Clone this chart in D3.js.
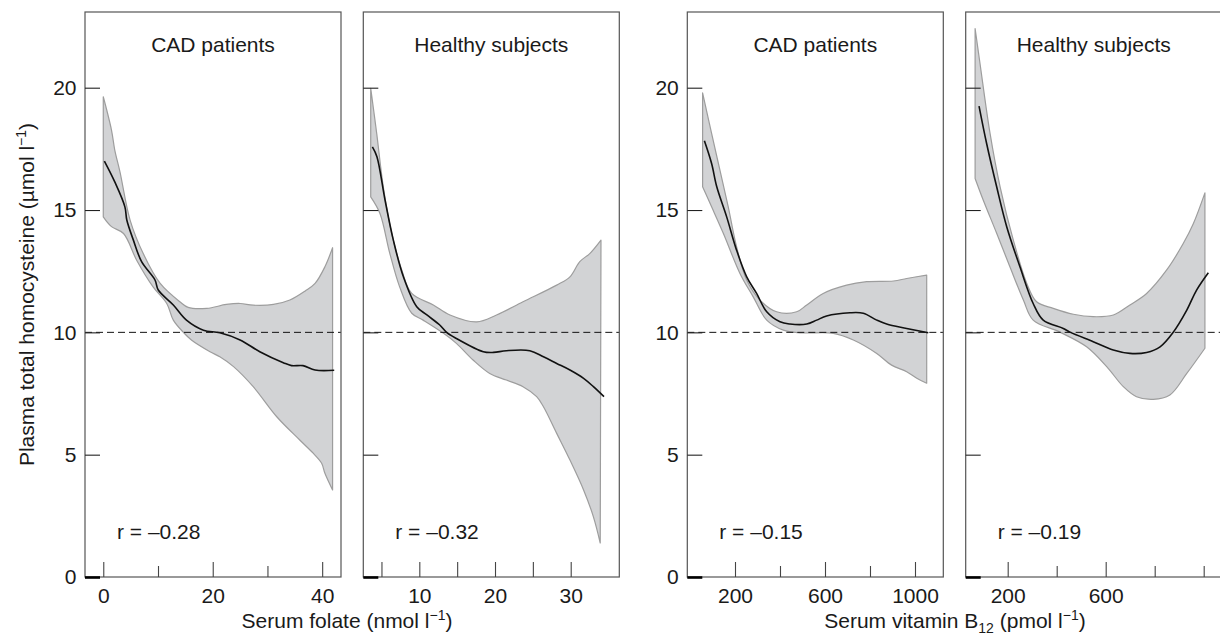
<!DOCTYPE html>
<html>
<head>
<meta charset="utf-8">
<script src="https://cdn.jsdelivr.net/npm/d3@7"></script>
<style>
  html, body { margin: 0; padding: 0; background: #fff; }
  svg { display: block; }
</style>
</head>
<body>
<svg id="chart" width="1220" height="637"></svg>
<script>
// ---------------- DATA ----------------
const panelTitles = ["CAD patients", "Healthy subjects", "CAD patients", "Healthy subjects"];
const rLabels = ["r = \u20130.28", "r = \u20130.32", "r = \u20130.15", "r = \u20130.19"];
const yTicks = [0, 5, 10, 15, 20];
const yTickLabels = ["0", "5", "10", "15", "20"];
const referenceLine = 10;

// Folate, CAD patients
const folateCadMajor = [0, 20, 40];
const folateCadMinor = [10, 30];
const folateCadUpper = [[0,19.63],[1.5,18.27],[2.1,17.45],[3.05,16.56],[4.9,14.59],[7.3,13.22],[10.4,12.0],[14.0,11.25],[15.5,11.02],[18.9,10.98],[22.5,11.14],[25,11.18],[27.4,11.11],[31.1,11.14],[34.1,11.32],[36.9,11.69],[38.7,12.0],[40.5,12.68],[41.9,13.46]];
const folateCadLower = [[0,14.72],[1.5,14.32],[3.7,14.04],[6.1,12.95],[9.1,11.86],[11.6,11.18],[12.8,10.5],[14.6,10.01],[16.1,9.69],[19.5,9.21],[21.3,9.0],[23.8,8.6],[27.4,7.78],[31.7,6.55],[35.9,5.6],[38.4,5.05],[39.9,4.65],[40.5,4.24],[41.9,3.56]];
const folateCadFit = [[0.2,17.0],[2.1,16.15],[3.95,15.13],[4.3,14.59],[5.5,13.77],[7.0,12.89],[9.45,12.14],[10.05,11.73],[12.8,11.12],[15.2,10.5],[18.3,10.09],[21.3,9.98],[25,9.69],[28.6,9.21],[32.9,8.76],[34.4,8.64],[36.5,8.64],[38.7,8.46],[42.2,8.45]];

// Folate, healthy subjects
const folateHealthyMajor = [10, 20, 30];
const folateHealthyMinor = [5, 15, 25];
const folateHealthyUpper = [[3.58,19.97],[4.37,18.13],[5.24,15.95],[6.35,14.05],[7.68,12.55],[9.0,11.59],[11.85,11.12],[14.05,10.71],[17.58,10.43],[20.2,10.71],[23.7,11.25],[28.15,11.93],[29.9,12.27],[31.2,12.89],[32.55,13.23],[34.0,13.77]];
const folateHealthyLower = [[3.58,15.54],[4.8,14.86],[6.1,13.23],[7.4,11.86],[9.0,10.78],[10.5,10.5],[13.2,9.96],[14.9,9.55],[17.1,8.87],[19.3,8.32],[21.5,8.05],[23.7,7.78],[25.5,7.37],[26.4,6.96],[28.15,5.87],[29.9,4.78],[31.7,3.56],[33.0,2.46],[33.9,1.39]];
const folateHealthyFit = [[3.8,17.58],[4.4,17.18],[5.47,15.41],[6.57,13.77],[7.9,12.27],[9.66,11.05],[11.0,10.71],[12.7,10.3],[13.6,10.0],[14.9,9.75],[18.45,9.21],[19.8,9.18],[21.5,9.25],[24.6,9.25],[26.4,9.0],[28.15,8.73],[29.9,8.46],[31.7,8.12],[33.0,7.78],[34.4,7.37]];

// Vitamin B12, CAD patients
const b12CadMajor = [200, 600, 1000];
const b12CadMinor = [400, 800];
const b12CadUpper = [[56,19.79],[96,18.13],[133,16.63],[170,15.13],[207,13.5],[252,12.14],[311,11.32],[385,10.84],[474,10.84],[519,11.12],[592,11.59],[696,11.93],[785,12.07],[904,12.1],[963,12.2],[1052,12.34]];
const b12CadLower = [[56,15.95],[96,15.13],[148,14.05],[222,12.41],[281,11.45],[341,10.5],[415,10.09],[489,9.98],[637,9.96],[726,9.69],[830,9.14],[896,8.66],[963,8.39],[1008,8.12],[1052,7.92]];
const b12CadFit = [[64,17.83],[96,16.9],[119,15.95],[163,14.72],[207,13.36],[252,12.27],[296,11.59],[341,10.84],[400,10.43],[444,10.34],[519,10.34],[563,10.5],[607,10.67],[711,10.8],[770,10.78],[830,10.5],[874,10.34],[963,10.16],[1059,9.98]];

// Vitamin B12, healthy subjects
const b12HealthyMajor = [200, 600];
const b12HealthyMinor = [400, 800, 1000];
const b12HealthyUpper = [[67,22.42],[87,20.99],[128,18.13],[169,15.95],[223,13.77],[278,12.0],[318,11.25],[386,10.98],[468,10.74],[549,10.64],[631,10.71],[699,11.12],[767,11.59],[849,12.55],[917,13.64],[958,14.45],[1005,15.7]];
const b12HealthyLower = [[67,16.29],[100,15.41],[155,14.05],[209,12.68],[264,11.32],[304,10.5],[413,10.01],[522,9.41],[604,8.6],[672,7.78],[726,7.37],[794,7.26],[862,7.44],[931,8.32],[1005,9.35]];
const b12HealthyFit = [[83,19.25],[114,17.72],[155,15.95],[196,14.32],[250,12.68],[304,11.18],[345,10.5],[427,10.16],[454,10.01],[549,9.62],[631,9.28],[699,9.14],[767,9.18],[822,9.41],[876,10.01],[931,10.91],[971,11.73],[1019,12.44]];

// ---------------- LAYOUT ----------------
const FONT = "'Liberation Sans', Arial, Helvetica, sans-serif";
const FS = 21;
const plotTop = 12, plotBottom = 577, panelW = 256;
const panels = [
  { left: 85,    domain: [-3.34, 43.44],  major: folateCadMajor,    minor: folateCadMinor,    minorLen: 11, upper: folateCadUpper,    lower: folateCadLower,    fit: folateCadFit,    yLabels: true },
  { left: 363.3, domain: [2.6, 36.42],    major: folateHealthyMajor, minor: folateHealthyMinor, minorLen: 15, upper: folateHealthyUpper, lower: folateHealthyLower, fit: folateHealthyFit, yLabels: false },
  { left: 687.3, domain: [-12, 1125.8],   major: b12CadMajor,       minor: b12CadMinor,       minorLen: 11, upper: b12CadUpper,       lower: b12CadLower,       fit: b12CadFit,       yLabels: true },
  { left: 965.7, domain: [28.6, 1073.5],  major: b12HealthyMajor,   minor: b12HealthyMinor,   minorLen: 11, upper: b12HealthyUpper,   lower: b12HealthyLower,   fit: b12HealthyFit,   yLabels: false }
];

const svg = d3.select("#chart");
const y = d3.scaleLinear().domain([0, (plotBottom - plotTop) / 24.465]).range([plotBottom, plotTop]);

panels.forEach((p, i) => {
  const x = d3.scaleLinear().domain(p.domain).range([p.left, p.left + panelW]);
  const g = svg.append("g");
  const line = d3.line().x(d => x(d[0])).y(d => y(d[1])).curve(d3.curveCatmullRom.alpha(0.5));

  // confidence band
  const up = line(p.upper);
  const lo = line(p.lower.slice().reverse());
  g.append("path")
    .attr("d", up + "L" + lo.slice(1) + "Z")
    .attr("fill", "#d2d3d5")
    .attr("stroke", "#9d9d9d")
    .attr("stroke-width", 1.2)
    .attr("stroke-linejoin", "round");

  // reference line
  g.append("line")
    .attr("x1", p.left).attr("x2", p.left + panelW)
    .attr("y1", y(referenceLine)).attr("y2", y(referenceLine))
    .attr("stroke", "#111").attr("stroke-width", 1)
    .attr("stroke-dasharray", "7,4");

  // fitted line
  g.append("path")
    .attr("d", line(p.fit))
    .attr("fill", "none")
    .attr("stroke", "#111")
    .attr("stroke-width", 1.6);

  // frame
  g.append("rect")
    .attr("x", p.left).attr("y", plotTop)
    .attr("width", panelW).attr("height", plotBottom - plotTop)
    .attr("fill", "none").attr("stroke", "#555").attr("stroke-width", 1.2);

  // y ticks (inward)
  const yAx = g.append("g").attr("transform", `translate(${p.left},0)`)
    .call(d3.axisRight(y).tickValues(yTicks).tickSize(15).tickFormat(""));
  yAx.select(".domain").remove();
  yAx.selectAll(".tick line").attr("stroke", "#222").attr("stroke-width", 1.1);
  yAx.selectAll(".tick").filter(d => d === 0).select("line")
    .attr("stroke", "#000").attr("stroke-width", 2.6);

  if (p.yLabels) {
    const yl = g.append("g").attr("transform", `translate(${p.left},0)`)
      .call(d3.axisLeft(y).tickValues(yTicks).tickSize(0).tickPadding(8.5)
        .tickFormat((d, k) => yTickLabels[k]));
    yl.select(".domain").remove();
    yl.selectAll("text").attr("font-family", FONT).attr("font-size", FS).attr("fill", "#1a1a1a");
  }

  // x ticks (inward)
  const xMaj = g.append("g").attr("transform", `translate(0,${plotBottom})`)
    .call(d3.axisTop(x).tickValues(p.major).tickSize(15).tickFormat(""));
  xMaj.select(".domain").remove();
  xMaj.selectAll(".tick line").attr("stroke", "#444").attr("stroke-width", 1.1);
  const xMin = g.append("g").attr("transform", `translate(0,${plotBottom})`)
    .call(d3.axisTop(x).tickValues(p.minor).tickSize(p.minorLen).tickFormat(""));
  xMin.select(".domain").remove();
  xMin.selectAll(".tick line").attr("stroke", "#444").attr("stroke-width", 1.1);

  const xl = g.append("g").attr("transform", `translate(0,${plotBottom})`)
    .call(d3.axisBottom(x).tickValues(p.major).tickSize(0).tickPadding(11).tickFormat(d3.format("d")));
  xl.select(".domain").remove();
  xl.selectAll("text").attr("font-family", FONT).attr("font-size", FS).attr("fill", "#1a1a1a");

  // title
  g.append("text")
    .attr("x", p.left + panelW / 2).attr("y", 52)
    .attr("text-anchor", "middle")
    .attr("font-family", FONT).attr("font-size", FS).attr("fill", "#1a1a1a")
    .text(panelTitles[i]);

  // correlation
  g.append("text")
    .attr("x", p.left + 32).attr("y", 539)
    .attr("font-family", FONT).attr("font-size", FS).attr("fill", "#1a1a1a")
    .text(rLabels[i]);
});

// Axis titles
const yTitle = svg.append("text")
  .attr("transform", `translate(34,${(plotTop + plotBottom) / 2}) rotate(-90)`)
  .attr("text-anchor", "middle")
  .attr("font-family", FONT).attr("font-size", FS).attr("fill", "#1a1a1a");
yTitle.append("tspan").text("Plasma total homocysteine (\u00b5mol l");
yTitle.append("tspan").attr("font-size", 14).attr("dy", -8).text("\u22121");
yTitle.append("tspan").attr("dy", 8).text(")");

const x1Title = svg.append("text")
  .attr("x", 347).attr("y", 628)
  .attr("text-anchor", "middle")
  .attr("font-family", FONT).attr("font-size", FS).attr("fill", "#1a1a1a");
x1Title.append("tspan").text("Serum folate (nmol l");
x1Title.append("tspan").attr("font-size", 14).attr("dy", -8).text("\u22121");
x1Title.append("tspan").attr("dy", 8).text(")");

const x2Title = svg.append("text")
  .attr("x", 955).attr("y", 628)
  .attr("text-anchor", "middle")
  .attr("font-family", FONT).attr("font-size", FS).attr("fill", "#1a1a1a");
x2Title.append("tspan").text("Serum vitamin B");
x2Title.append("tspan").attr("font-size", 14).attr("dy", 5).text("12");
x2Title.append("tspan").attr("dy", -5).text(" (pmol l");
x2Title.append("tspan").attr("font-size", 14).attr("dy", -8).text("\u22121");
x2Title.append("tspan").attr("dy", 8).text(")");
</script>
</body>
</html>
